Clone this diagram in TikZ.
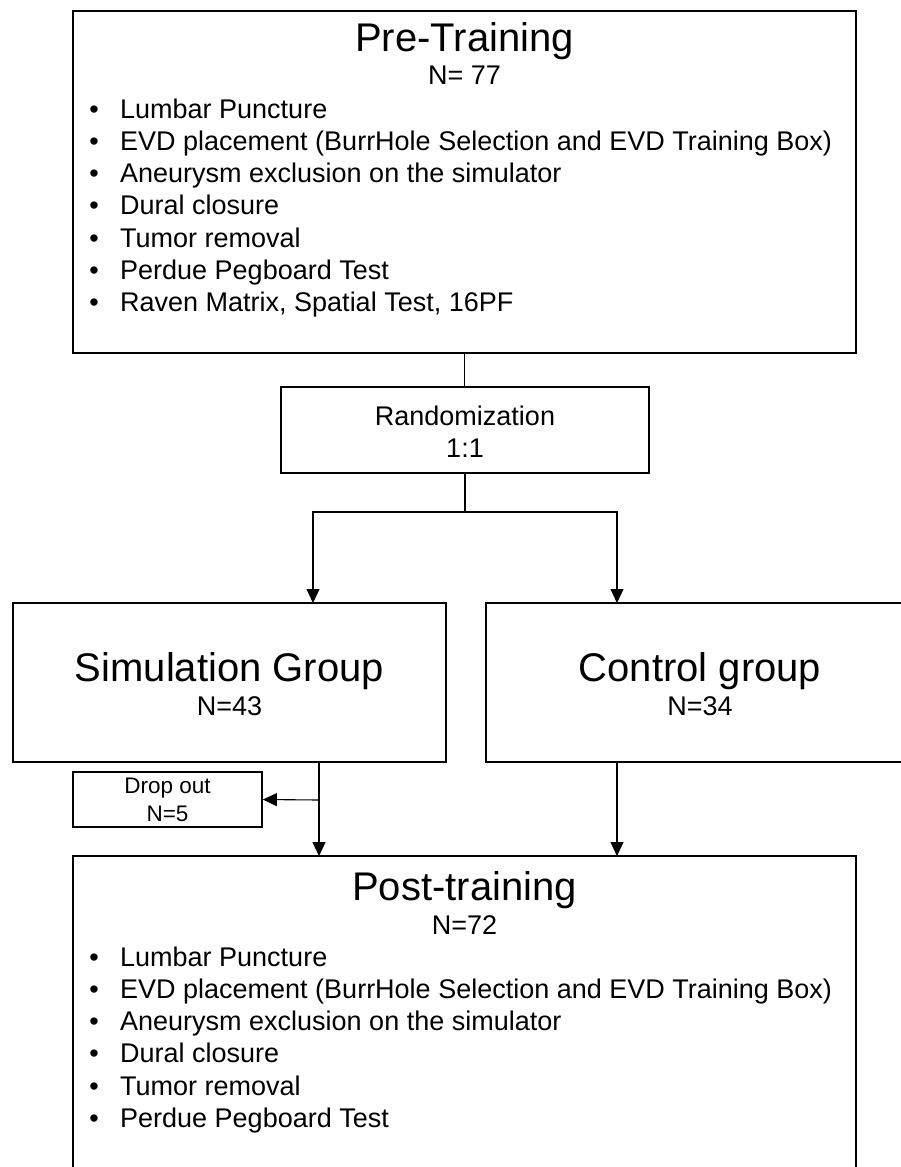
\documentclass[tikz,border=0pt]{standalone}
\usepackage{fontspec}
\setmainfont{Liberation Sans}
\usetikzlibrary{arrows.meta,positioning,calc}

\tikzset{
  box/.style={draw, line width=1.8pt, inner sep=0pt},
  hd/.style={font=\fontsize{40}{48}\selectfont, anchor=base, inner sep=0pt},
  txt/.style={font=\fontsize{27}{32}\selectfont, anchor=base, inner sep=0pt},
  sm/.style={font=\fontsize{22.5}{26}\selectfont, anchor=base, inner sep=0pt},
  conn/.style={line width=1.1pt},
  arr/.style={conn, -{Triangle[length=14pt,width=13pt]}}
}

\begin{document}
\begin{tikzpicture}[x=1pt, y=-1pt]
\useasboundingbox (0,0) rectangle (901,1167);
\clip (0,0) rectangle (901,1167);

% boxes
\node[box, minimum width=783pt, minimum height=342pt] (pre) at (464.5,182) {};
\node[box, minimum width=368pt, minimum height=86pt] (rand) at (465,430) {};
\node[box, minimum width=433pt, minimum height=159pt] (sim) at (229.5,682.5) {};
\node[box, minimum width=426pt, minimum height=159pt] (ctrl) at (699,682.5) {};
\node[box, minimum width=189pt, minimum height=55pt] (drop) at (167.5,799.5) {};
\node[box, minimum width=783pt, minimum height=324pt] (post) at (464.5,1018) {};

% pre-training
\node[hd] (preT) at (464.5,51) {Pre-Training};
\node[txt] (preN) at (464.5,84) {N= 77};
\foreach \t [count=\i] in {Lumbar Puncture, EVD placement (BurrHole Selection and EVD Training Box), Aneurysm exclusion on the simulator, Dural closure, Tumor removal, Perdue Pegboard Test, {Raven Matrix, Spatial Test, 16PF}} {
  \node[txt] (preB\i) at (94,85.7+32.3*\i) {•};
  \node[txt, anchor=base west] (preL\i) at (120,85.7+32.3*\i) {\t};
}

% randomization and groups
\node[txt] (randT) at (465,425) {Randomization};
\node[txt] (randR) at (465,457) {1:1};
\node[hd] (simT) at (229.5,681) {Simulation Group};
\node[txt] (simN) at (229.5,715) {N=43};
\node[hd] (ctrlT) at (700,681) {Control group};
\node[txt] (ctrlN) at (700,715) {N=34};
\node[sm] (dropT) at (167.5,793) {Drop out};
\node[sm] (dropN) at (167.5,821) {N=5};

% post-training
\node[hd] (postT) at (464.5,900) {Post-training};
\node[txt] (postN) at (464.5,934) {N=72};
\foreach \t [count=\i] in {Lumbar Puncture, EVD placement (BurrHole Selection and EVD Training Box), Aneurysm exclusion on the simulator, Dural closure, Tumor removal, Perdue Pegboard Test} {
  \node[txt] (postB\i) at (94,933.7+32.3*\i) {•};
  \node[txt, anchor=base west] (postL\i) at (120,933.7+32.3*\i) {\t};
}

% connectors
\coordinate (fork) at (465,512);
\coordinate (simIn) at (313,603);
\coordinate (ctrlIn) at (617,603);
\coordinate (dropOff) at (319,800);
\coordinate (postInL) at (319,856);
\coordinate (postInR) at (617,856);
\draw[conn] (pre.south) -- (pre.south |- rand.north);
\draw[conn] (rand.south) -- (fork);
\draw[arr] (fork) -| (simIn);
\draw[arr] (fork) -| (ctrlIn);
\draw[arr] (sim.south -| postInL) -- (postInL);
\draw[arr] (dropOff) -- (drop.east);
\draw[arr] (ctrl.south -| postInR) -- (postInR);
\end{tikzpicture}
\end{document}
